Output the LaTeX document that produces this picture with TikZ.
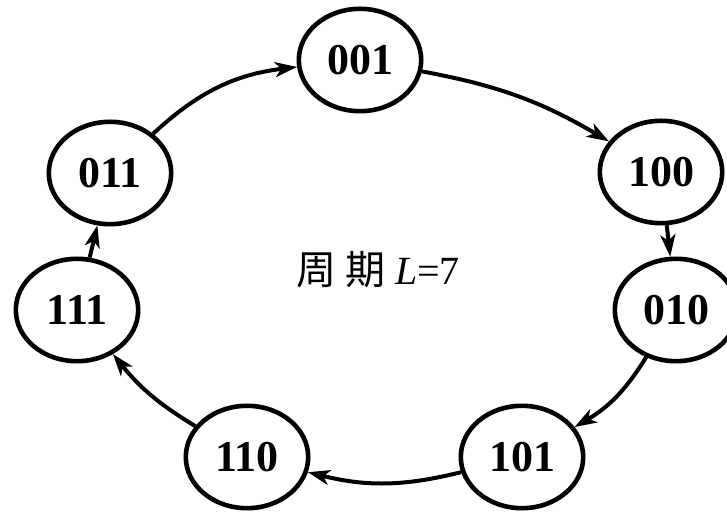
\documentclass[tikz,border=0pt]{standalone}
\usepackage{fontspec}
\setmainfont{Liberation Serif}
\newfontfamily\cjk{Noto Sans CJK SC}
\usetikzlibrary{arrows.meta,shapes.geometric}
\begin{document}
\begin{tikzpicture}[x=1pt,y=1pt,
  state/.style={ellipse,draw,line width=4.6pt,minimum width=122.4pt,minimum height=102.4pt,inner sep=0pt,
    font=\fontsize{44}{44}\selectfont\bfseries},
  conn/.style={line width=4pt,-{Stealth[length=22pt,width=15pt,inset=6pt]}}]
\useasboundingbox (0,0) rectangle (727,511);
\node[state] (n001) at (360,451) {001};
\node[state] (n011) at (110,338) {011};
\node[state] (n100) at (661,339) {100};
\node[state] (n111) at (77,201) {111};
\node[state] (n010) at (676,201) {010};
\node[state] (n110) at (247,54) {110};
\node[state] (n101) at (522,54) {101};
\node (lbl) at (378,241) {\fontsize{40}{40}\selectfont{\cjk 周~期}~\textit{L}=7};
\draw[conn] (n011) to[bend left=18] (n001);
\draw[conn] (n001) to[bend left=10] (n100);
\draw[conn] (n100) to (n010);
\draw[conn] (n010) to[bend left=14] (n101);
\draw[conn] (n101) to[bend left=14] (n110);
\draw[conn] (n110) to[bend left=10] (n111);
\draw[conn] (n111) to (n011);
\end{tikzpicture}
\end{document}
